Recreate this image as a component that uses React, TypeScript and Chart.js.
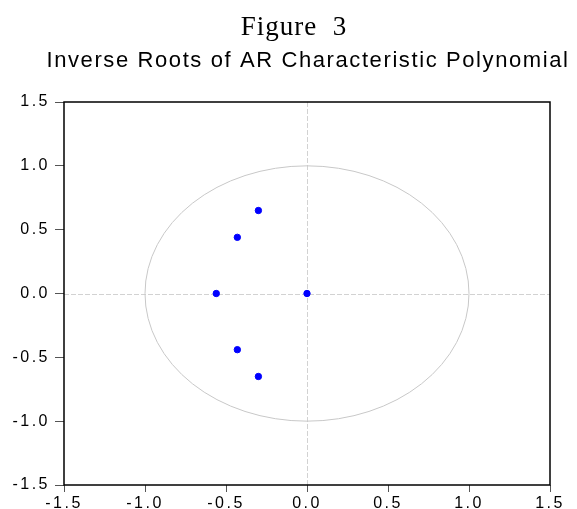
import React, { useEffect, useRef } from "react";
import { Chart, registerables } from "chart.js";

Chart.register(...registerables);

// ---- data ----
const rootsReal = [-0.30, -0.43, -0.56, 0.0, -0.43, -0.30];
const rootsImag = [0.65, 0.44, 0.0, 0.0, -0.44, -0.65];
const axisTicks = [-1.5, -1.0, -0.5, 0.0, 0.5, 1.0, 1.5];
const unitRadius = 1;
const titleText = "Figure  3";
const subtitleText = "Inverse Roots of AR Characteristic Polynomial";

const W = 577;
const H = 509;

const decorPlugin = {
  id: "decor",
  beforeDraw(chart: any) {
    (chart.ctx as any).letterSpacing = "2.5px";
  },
  beforeDatasetsDraw(chart: any) {
    const { ctx, chartArea, scales } = chart;
    const xs = scales.x;
    const ys = scales.y;
    const x0 = xs.getPixelForValue(0);
    const y0 = ys.getPixelForValue(0);
    const rx = xs.getPixelForValue(unitRadius) - x0;
    const ry = y0 - ys.getPixelForValue(unitRadius);
    ctx.save();
    ctx.strokeStyle = "#d2d2d2";
    ctx.lineWidth = 1;
    ctx.setLineDash([5, 2]);
    ctx.beginPath();
    ctx.moveTo(Math.round(x0) + 0.5, chartArea.top);
    ctx.lineTo(Math.round(x0) + 0.5, chartArea.bottom);
    ctx.moveTo(chartArea.left, Math.round(y0) + 0.5);
    ctx.lineTo(chartArea.right, Math.round(y0) + 0.5);
    ctx.stroke();
    ctx.setLineDash([]);
    ctx.strokeStyle = "#c8c8c8";
    ctx.beginPath();
    ctx.ellipse(x0, y0, rx, ry, 0, 0, Math.PI * 2);
    ctx.stroke();
    ctx.restore();
  },
  afterDraw(chart: any) {
    const { ctx, chartArea } = chart;
    ctx.save();
    ctx.strokeStyle = "#000";
    ctx.lineWidth = 1.5;
    ctx.setLineDash([]);
    ctx.strokeRect(chartArea.left, chartArea.top, chartArea.right - chartArea.left, chartArea.bottom - chartArea.top);
    ctx.fillStyle = "#000";
    ctx.textAlign = "center";
    ctx.textBaseline = "alphabetic";
    (ctx as any).letterSpacing = "1px";
    ctx.font = "27px 'Liberation Serif', 'Times New Roman', serif";
    ctx.fillText(titleText, 294, 35);
    (ctx as any).letterSpacing = "1.6px";
    ctx.font = "22px 'Liberation Sans', Arial, sans-serif";
    ctx.fillText(subtitleText, 308, 67);
    (ctx as any).letterSpacing = "0px";
    ctx.restore();
  },
};

export default function App() {
  const ref = useRef<HTMLCanvasElement | null>(null);
  useEffect(() => {
    document.body.style.margin = "0";
    const canvas = ref.current;
    if (!canvas) return;
    const tickFont = { family: "'Liberation Sans', Arial, sans-serif", size: 16 };
    const chart = new Chart(canvas, {
      type: "scatter",
      data: {
        datasets: [
          {
            data: rootsReal.map((re, i) => ({ x: re, y: rootsImag[i] })),
            backgroundColor: "#0000ff",
            borderColor: "#0000ff",
            pointRadius: 3.2,
            pointHoverRadius: 3.2,
          },
        ],
      },
      options: {
        animation: false,
        responsive: false,
        devicePixelRatio: 1,
        layout: { padding: { top: 102, right: 27, left: 0, bottom: 0 } },
        plugins: {
          legend: { display: false },
          tooltip: { enabled: false },
          title: { display: false },
        },
        scales: {
          x: {
            type: "linear",
            min: -1.5,
            max: 1.5,
            afterBuildTicks: (scale: any) => {
              scale.ticks = axisTicks.map((v) => ({ value: v }));
            },
            afterFit: (scale: any) => {
              scale.height = 24;
            },
            ticks: {
              font: tickFont,
              color: "#000",
              padding: 2,
              maxRotation: 0,
              autoSkip: false,
              callback: (v: any) => Number(v).toFixed(1),
            },
            grid: { drawOnChartArea: false, drawTicks: true, tickLength: 7, color: "#555" },
            border: { display: false },
          },
          y: {
            type: "linear",
            min: -1.5,
            max: 1.5,
            afterBuildTicks: (scale: any) => {
              scale.ticks = axisTicks.map((v) => ({ value: v }));
            },
            afterFit: (scale: any) => {
              scale.width = 64;
            },
            ticks: {
              font: tickFont,
              color: "#000",
              padding: 5,
              autoSkip: false,
              callback: (v: any) => Number(v).toFixed(1),
            },
            grid: { drawOnChartArea: false, drawTicks: true, tickLength: 9, color: "#555" },
            border: { display: false },
          },
        },
      },
      plugins: [decorPlugin],
    } as any);
    return () => chart.destroy();
  }, []);
  return (
    <div style={{ position: "fixed", left: 0, top: 0, width: W, height: H, background: "#fff" }}>
      <canvas ref={ref} width={W} height={H} />
    </div>
  );
}
